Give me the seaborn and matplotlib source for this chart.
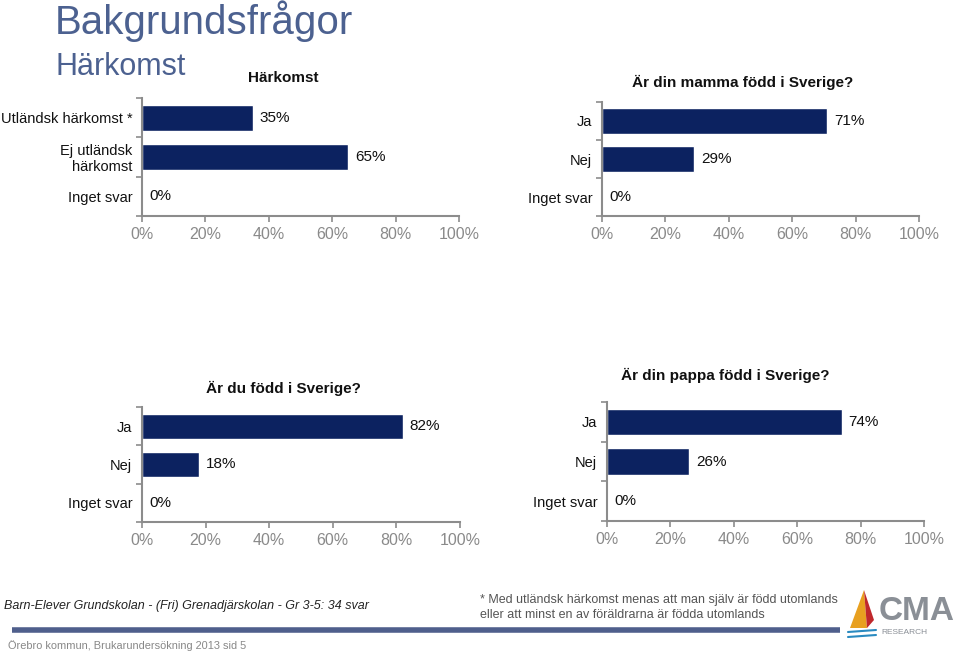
import matplotlib
matplotlib.use("Agg")
import matplotlib.pyplot as plt
import seaborn as sns
import pandas as pd
from matplotlib.patches import Polygon

sns.set_theme(style="white")
plt.rcParams['font.family'] = ['Liberation Sans', 'DejaVu Sans']

# ---- data ----
cats_origin = ["Utländsk härkomst *", "Ej utländsk\nhärkomst", "Inget svar"]
vals_origin = [35, 65, 0]
cats_yn = ["Ja", "Nej", "Inget svar"]
vals_mother = [71, 29, 0]
vals_self = [82, 18, 0]
vals_father = [74, 26, 0]
xticks = [0, 20, 40, 60, 80, 100]
xtick_labels = ["0%", "20%", "40%", "60%", "80%", "100%"]

titles = ["Härkomst", "Är din mamma född i Sverige?", "Är du född i Sverige?", "Är din pappa född i Sverige?"]

BAR = "#0c2260"
AX = "#8c8c8c"
TITLE_BLUE = "#4c6190"

W, H = 960, 653
fig = plt.figure(figsize=(9.6, 6.53), dpi=100)

def rect(l, t, r, b):
    return [l / W, 1 - b / H, (r - l) / W, (b - t) / H]

panels = [
    (rect(142, 98, 459, 216), cats_origin, vals_origin, titles[0], 283, 78),
    (rect(602, 102, 919, 216), cats_yn, vals_mother, titles[1], 743, 82),
    (rect(142, 407, 460, 522), cats_yn, vals_self, titles[2], 283, 388),
    (rect(607, 402, 924, 521), cats_yn, vals_father, titles[3], 725, 375),
]

for pos, cats, vals, title, tx, ty in panels:
    ax = fig.add_axes(pos)
    df = pd.DataFrame({"cat": cats, "val": vals})
    sns.barplot(data=df, y="cat", x="val", orient="h", color=BAR, width=0.66,
                saturation=1, ax=ax, order=cats)
    ax.set_xlim(0, 100)
    ax.set_ylim(2.5, -0.5)
    ax.set_xlabel("")
    ax.set_ylabel("")
    for s in ["top", "right"]:
        ax.spines[s].set_visible(False)
    for s in ["left", "bottom"]:
        ax.spines[s].set_color(AX)
        ax.spines[s].set_linewidth(1.5)
    ax.set_xticks(xticks)
    ax.set_xticklabels(xtick_labels, color="#8a8a8a", fontsize=11.5)
    ax.tick_params(axis="x", length=4, width=1.2, color=AX, direction="out", pad=4, bottom=True)
    ax.set_yticks(range(len(cats)))
    ax.set_yticklabels(cats, fontsize=10.5, color="#111111", linespacing=1.15)
    ax.tick_params(axis="y", which="major", length=0, pad=7, left=False)
    ax.set_yticks([-0.5, 0.5, 1.5, 2.5], minor=True)
    ax.tick_params(axis="y", which="minor", length=4, width=1.2, color=AX, direction="out", left=True)
    for i, v in enumerate(vals):
        ax.text(v + 2.2, i, f"{v}%", va="center", ha="left", fontsize=11, color="#111111")
    fig.text(tx / W, 1 - ty / H, title, ha="center", va="center", fontsize=11,
             fontweight="bold", color="#111111")

# page titles
fig.text(55 / W, 1 - 21 / H, "Bakgrundsfrågor", fontsize=29, color=TITLE_BLUE, va="center", ha="left")
fig.text(55 / W, 1 - 67 / H, "Härkomst", fontsize=22, color=TITLE_BLUE, va="center", ha="left")

# footer
fig.text(4 / W, 1 - 606 / H, "Barn-Elever Grundskolan - (Fri) Grenadjärskolan - Gr 3-5: 34 svar",
         fontsize=9, style="italic", color="#222222", va="center", ha="left")
fig.text(480 / W, 1 - 600 / H, "* Med utländsk härkomst menas att man själv är född utomlands",
         fontsize=9, color="#555555", va="center", ha="left")
fig.text(480 / W, 1 - 615 / H, "eller att minst en av föräldrarna är födda utomlands",
         fontsize=9, color="#555555", va="center", ha="left")
fig.add_artist(plt.Line2D([12 / W, 840 / W], [1 - 630 / H, 1 - 630 / H], color="#4f5f8c",
                          linewidth=4, solid_capstyle="butt"))
fig.text(8 / W, 1 - 646 / H, "Örebro kommun, Brukarundersökning 2013 sid 5",
         fontsize=7.9, color="#888888", va="center", ha="left")

# logo
def fp(x, y):
    return (x / W, 1 - y / H)
fig.add_artist(Polygon([fp(864, 590), fp(850, 628), fp(867, 628)], closed=True,
                       facecolor="#e8a020", edgecolor="none", transform=fig.transFigure))
fig.add_artist(Polygon([fp(864, 590), fp(867, 628), fp(874, 620)], closed=True,
                       facecolor="#c0282c", edgecolor="none", transform=fig.transFigure))
fig.add_artist(plt.Line2D([848 / W, 876 / W], [1 - 632 / H, 1 - 630 / H], color="#2a8ac0", linewidth=1.5))
fig.add_artist(plt.Line2D([848 / W, 876 / W], [1 - 637 / H, 1 - 635 / H], color="#2a8ac0", linewidth=1.5))
fig.text(879 / W, 1 - 612 / H, "CMA", fontsize=24, fontweight="bold", color="#8a8f96",
         va="center", ha="left")
fig.text(881 / W, 1 - 632 / H, "RESEARCH", fontsize=6, color="#8a8f96", va="center", ha="left")

fig.savefig("out.png", dpi=100)
